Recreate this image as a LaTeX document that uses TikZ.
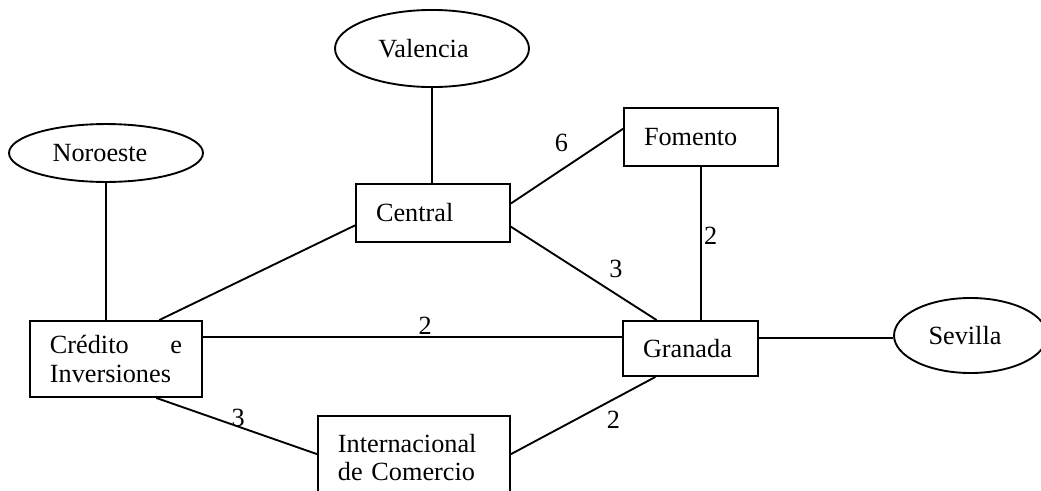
\documentclass[tikz,border=0pt]{standalone}
\usepackage{fontspec}
\setmainfont{Liberation Serif}
\usetikzlibrary{shapes.geometric}

\tikzset{
    linea/.style={line width=0.9pt},
    caja/.style={draw, line width=0.9pt, rectangle, align=left, inner xsep=9.6pt, inner ysep=0pt},
    lugar/.style={draw, line width=0.9pt, ellipse, inner sep=0pt}
}

\begin{document}
\begin{tikzpicture}[x=0.48pt, y=-0.48pt, font=\fontsize{12.6}{13.9}\selectfont]
    \path[use as bounding box, clip] (0, 0) rectangle (1041, 490);

    \node[lugar, minimum width=93.1pt, minimum height=37pt] (val) at (432, 48.5) {Valencia\hspace*{8.2pt}};
    \node[lugar, minimum width=93.1pt, minimum height=27.8pt] (nor) at (106, 153) {Noroeste\hspace*{5.8pt}};
    \node[lugar, minimum width=73.4pt, minimum height=36pt] (sev) at (970.5, 335.5) {Sevilla\hspace*{5.3pt}};

    \node[caja, text width=54.7pt, minimum height=27.8pt] (cen) at (433, 213) {Central};
    \node[caja, text width=54.7pt, minimum height=27.8pt] (fom) at (701, 137) {Fomento};
    \node[caja, text width=45.6pt, minimum height=26.4pt] (gra) at (690.5, 348.5) {Granada};
    \node[caja, text width=63.4pt, minimum height=36.5pt] (cre) at (116, 359) {Cr\'edito\hfill e\\Inversiones};
    \node[caja, text width=73pt, minimum height=39.8pt] (int) at (414, 457.5) {Internacional\\de Comercio};

    \draw[linea] (val.south) -- (val.south |- cen.north);
    \draw[linea] (nor.south) -- (nor.south |- cre.north);
    \draw[linea] (cre.42) -- (cen.189);
    \draw[linea] (cen.7) -- node[pos=0.45, yshift=13pt] {6} (fom.174);
    \draw[linea] (cen.350) -- node[pos=0.72, yshift=12pt] {3} (gra.140);
    \draw[linea] (fom.south) -- node[pos=0.45, anchor=west, inner sep=1pt] {2} (fom.south |- gra.north);
    \draw[linea] (cre.14) -- node[pos=0.53, above, inner sep=1pt] {2} (cre.14 -| gra.west);
    \draw[linea] (gra.9) -- (gra.9 -| sev.west);
    \draw[linea] (cre.316) -- node[pos=0.51, yshift=4pt] {3} (int.178);
    \draw[linea] (int.2) -- node[pos=0.71, yshift=-10pt] {2} (gra.219);
\end{tikzpicture}
\end{document}
